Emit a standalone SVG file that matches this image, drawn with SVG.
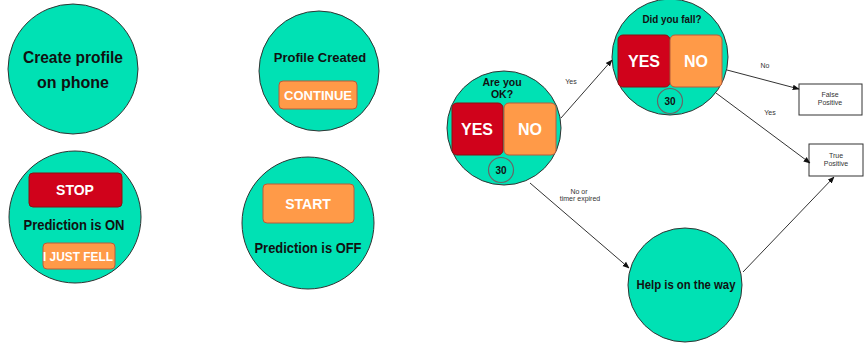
<svg xmlns="http://www.w3.org/2000/svg" width="865" height="343" viewBox="0 0 865 343">
<defs>
<style>
.c{fill:#00E1B4;stroke:#333;stroke-width:1}
.red{fill:#D0021B;stroke:#8a1010;stroke-width:1}
.org{fill:#FF9A48;stroke:#B85A3A;stroke-width:1}
.t{font-family:"Liberation Sans",Arial,sans-serif;font-weight:bold;fill:#111;text-anchor:middle}
.w{font-family:"Liberation Sans",Arial,sans-serif;font-weight:bold;fill:#fff;text-anchor:middle}
.s{font-family:"Liberation Sans",Arial,sans-serif;fill:#333;text-anchor:middle;font-size:7px}
.e{fill:none;stroke:#333;stroke-width:1}
.timer{fill:none;stroke:#666;stroke-width:1.2}
.box{fill:#fff;stroke:#333;stroke-width:1}
</style>
<marker id="ah" viewBox="0 0 10 10" refX="9" refY="5" markerWidth="7" markerHeight="7" orient="auto" markerUnits="userSpaceOnUse">
<path d="M0,1 L10,5 L0,9 z" fill="#111"/>
</marker>
</defs>
<rect width="865" height="343" fill="#fff"/>

<g id="create-profile">
<circle class="c" cx="73" cy="69" r="65"/>
<text class="t" x="73" y="63" font-size="16" textLength="100" lengthAdjust="spacingAndGlyphs">Create profile</text>
<text class="t" x="73" y="88" font-size="16">on phone</text>
</g>

<g id="profile-created">
<circle class="c" cx="319" cy="71" r="60"/>
<text class="t" x="320" y="62" font-size="13">Profile Created</text>
<rect class="org" x="279" y="81" width="78" height="28" rx="4"/>
<text class="w" x="318" y="100" font-size="13">CONTINUE</text>
</g>

<g id="prediction-on">
<circle class="c" cx="75" cy="217" r="66"/>
<rect class="red" x="29" y="173" width="93" height="34" rx="4"/>
<text class="w" x="75" y="195" font-size="14">STOP</text>
<text class="t" x="74" y="230" font-size="14" textLength="101" lengthAdjust="spacingAndGlyphs">Prediction is ON</text>
<rect class="org" x="43" y="243" width="72" height="26" rx="4"/>
<text class="w" x="78" y="261" font-size="13" textLength="70" lengthAdjust="spacingAndGlyphs">I JUST FELL</text>
</g>

<g id="prediction-off">
<circle class="c" cx="308" cy="223" r="66"/>
<rect class="org" x="263" y="184" width="91" height="39" rx="4"/>
<text class="w" x="308" y="209" font-size="14">START</text>
<text class="t" x="308" y="253" font-size="14" textLength="107" lengthAdjust="spacingAndGlyphs">Prediction is OFF</text>
</g>

<g id="are-you-ok">
<circle class="c" cx="504" cy="128" r="57"/>
<text class="t" x="502" y="86" font-size="10.5">Are you</text>
<text class="t" x="502" y="98" font-size="10.5">OK?</text>
<rect class="red" x="452" y="103" width="51" height="52" rx="5"/>
<rect class="org" x="504" y="103" width="52" height="52" rx="5"/>
<text class="w" x="477" y="135" font-size="16">YES</text>
<text class="w" x="530" y="135" font-size="16">NO</text>
<circle class="timer" cx="501" cy="170" r="12.5"/>
<text class="t" x="501" y="174" font-size="10">30</text>
</g>

<g id="did-you-fall">
<circle class="c" cx="670" cy="57" r="58"/>
<text class="t" x="672" y="23" font-size="10.5" textLength="59" lengthAdjust="spacingAndGlyphs">Did you fall?</text>
<rect class="red" x="618" y="35" width="52" height="52" rx="5"/>
<rect class="org" x="670" y="35" width="52" height="52" rx="5"/>
<text class="w" x="644" y="67" font-size="16">YES</text>
<text class="w" x="696" y="67" font-size="16">NO</text>
<circle class="timer" cx="670" cy="101" r="12.5"/>
<text class="t" x="670" y="105" font-size="10">30</text>
</g>

<g id="false-positive">
<rect class="box" x="799" y="84" width="63" height="31"/>
<text class="s" x="830" y="97">False</text>
<text class="s" x="830" y="105">Positive</text>
</g>

<g id="true-positive">
<rect class="box" x="809" y="144" width="54" height="32"/>
<text class="s" x="836" y="158">True</text>
<text class="s" x="836" y="166">Positive</text>
</g>

<g id="help">
<circle class="c" cx="685" cy="285" r="57"/>
<text class="t" x="686" y="289" font-size="12" textLength="99" lengthAdjust="spacingAndGlyphs">Help is on the way</text>
</g>

<g id="connectors">
<line class="e" x1="561" y1="118" x2="612" y2="60" marker-end="url(#ah)"/>
<text class="s" x="571" y="84">Yes</text>
<line class="e" x1="727" y1="70" x2="799" y2="89" marker-end="url(#ah)"/>
<text class="s" x="765" y="68">No</text>
<line class="e" x1="716" y1="93" x2="810" y2="163" marker-end="url(#ah)"/>
<text class="s" x="770" y="115">Yes</text>
<line class="e" x1="530" y1="183" x2="629" y2="268" marker-end="url(#ah)"/>
<text class="s" x="579" y="194">No or</text>
<text class="s" x="580" y="201">timer expired</text>
<line class="e" x1="743" y1="272" x2="834" y2="177" marker-end="url(#ah)"/>
</g>
</svg>
